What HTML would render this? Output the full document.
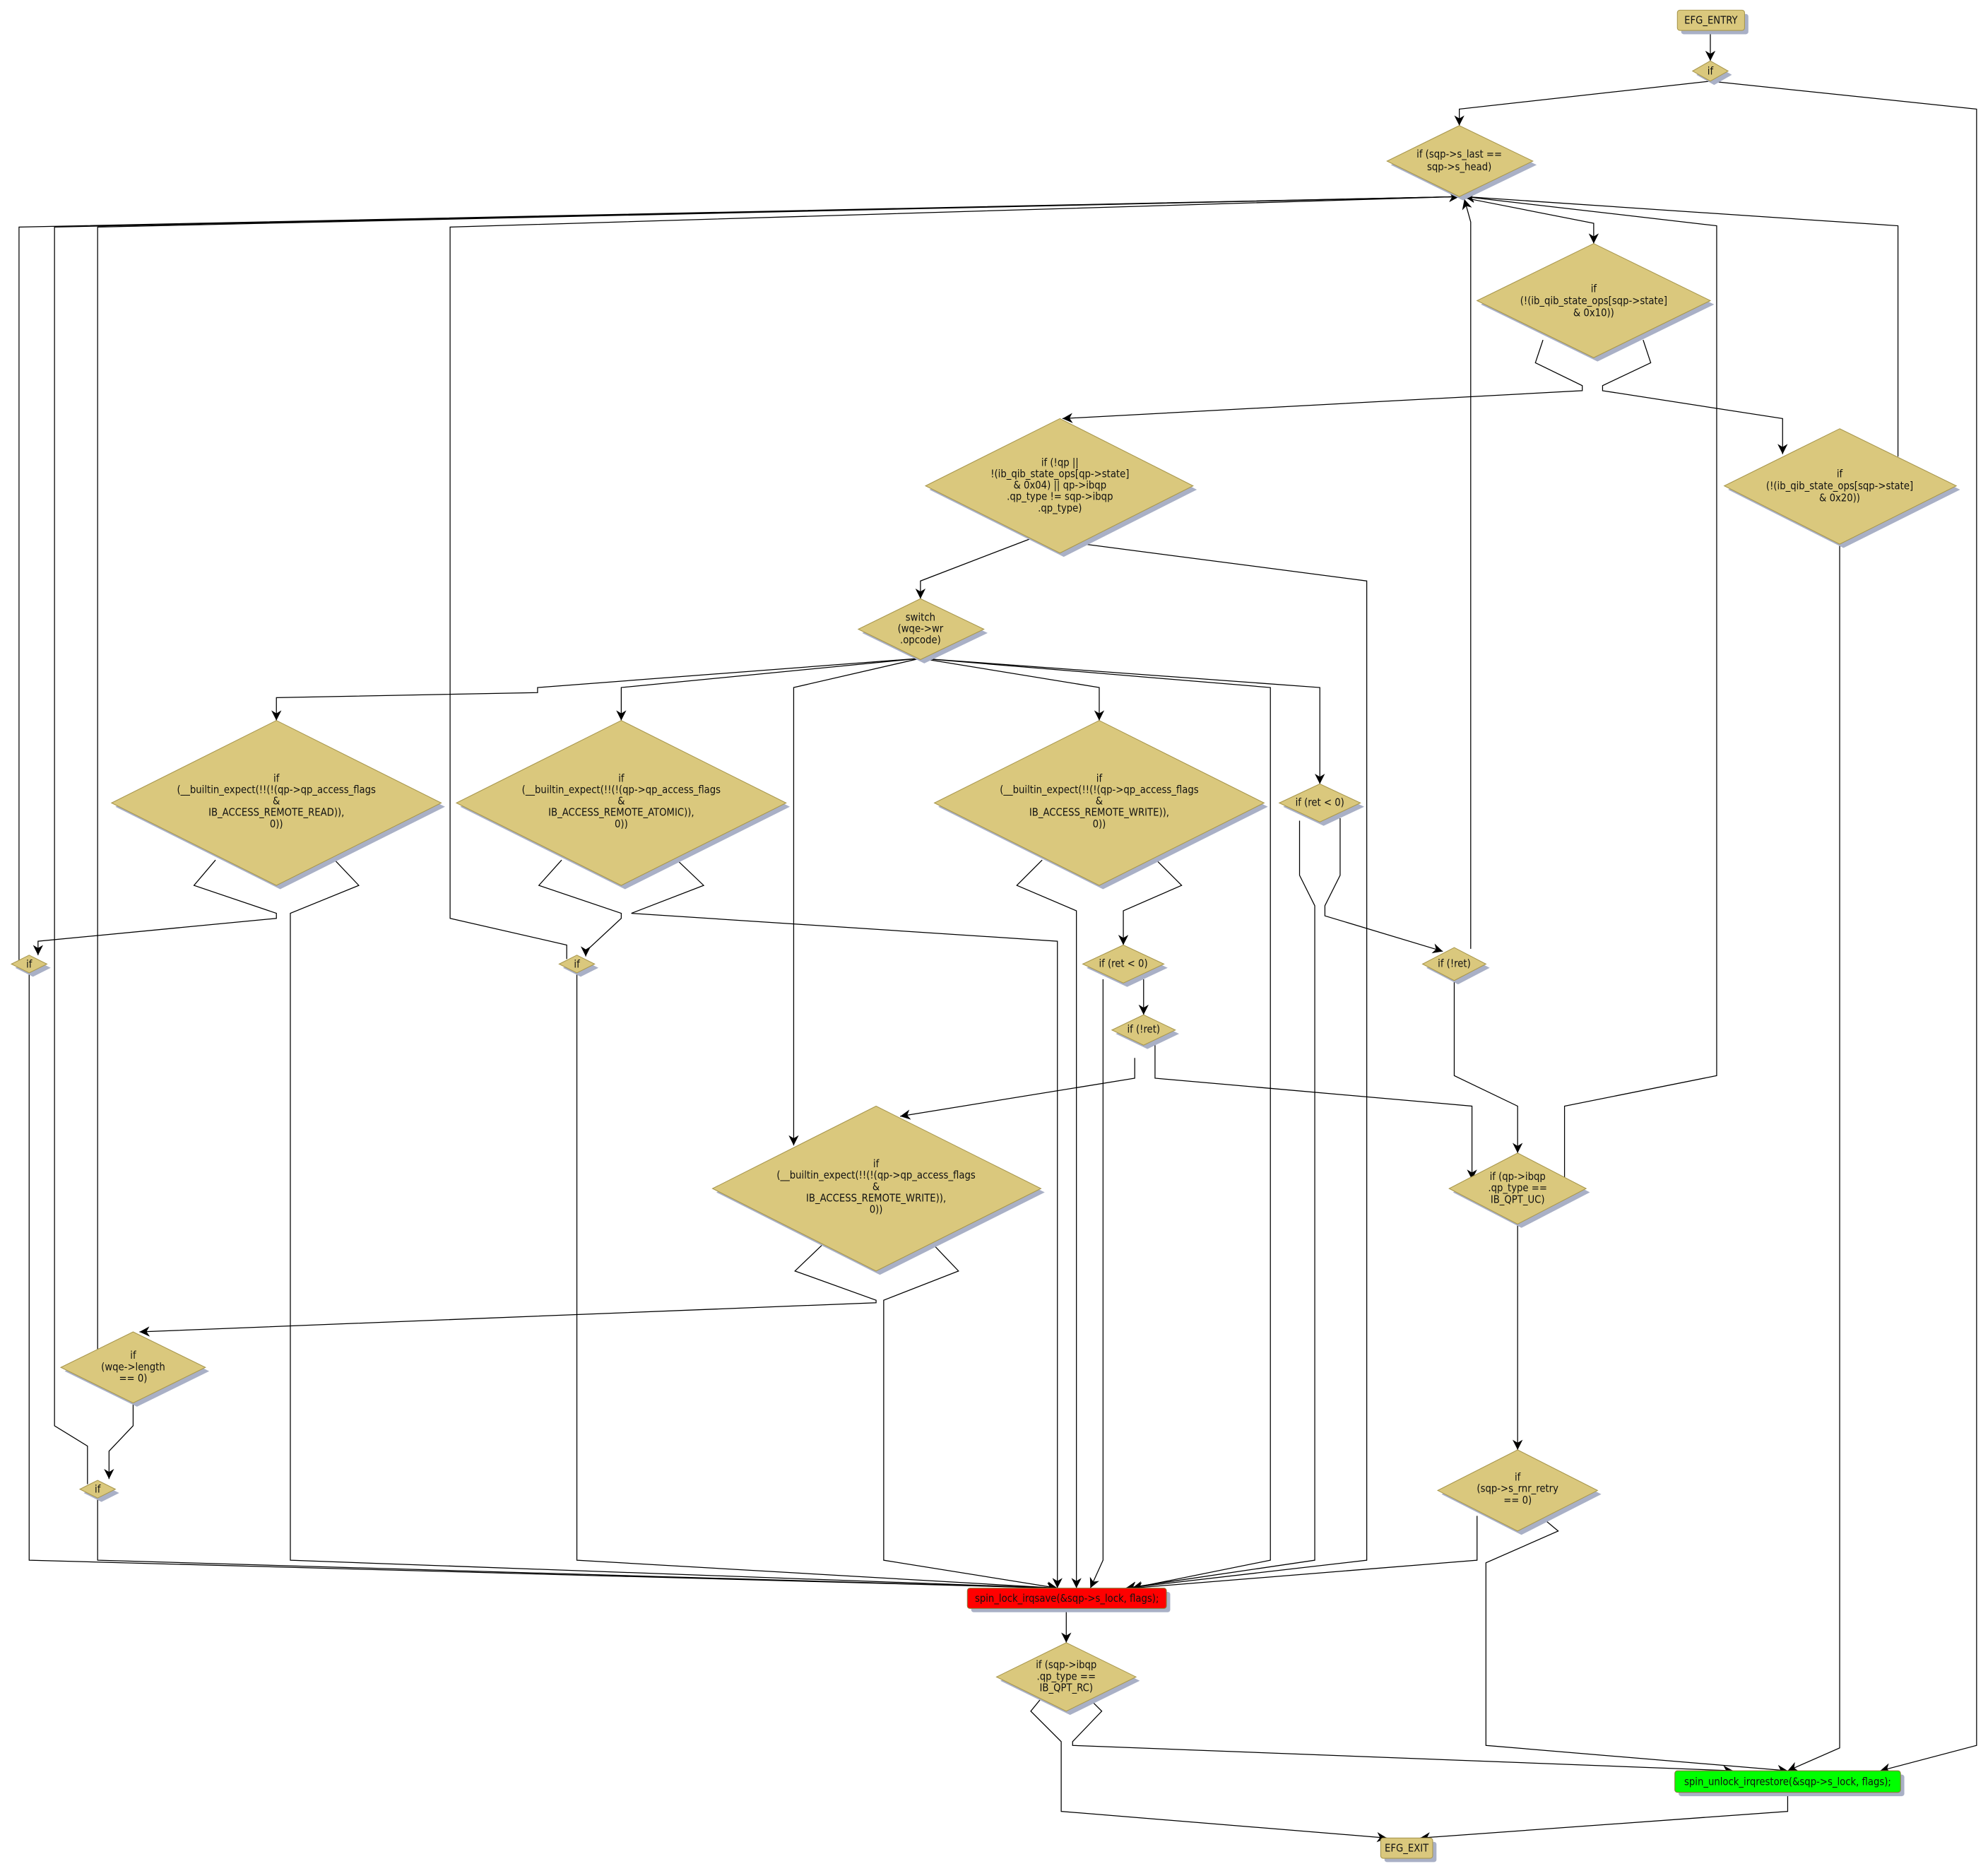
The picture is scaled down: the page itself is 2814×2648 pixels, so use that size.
<!DOCTYPE html>
<html><head><meta charset="utf-8"><style>
html,body{margin:0;padding:0;background:#fff;}
svg{display:block;}
text{font-family:"DejaVu Sans Condensed","Liberation Sans",sans-serif;font-size:8.2px;fill:#111;text-anchor:middle;dominant-baseline:middle;}
.d{fill:#dac87d;stroke:#a8974e;stroke-width:0.6;}
.s{fill:#a9b0c6;}
.e{fill:none;stroke:#000;stroke-width:0.7;}
</style></head><body>
<svg width="2814" height="2648" viewBox="0 0 1568 1475" preserveAspectRatio="none" xmlns="http://www.w3.org/2000/svg">
<defs><marker id="a" viewBox="0 0 10 10" refX="10" refY="5" markerWidth="8" markerHeight="8" markerUnits="userSpaceOnUse" orient="auto"><path d="M0,0 L10,5 L0,10 L3,5 z" fill="#000"/></marker></defs>

<g class="e" marker-end="url(#a)">
<polyline points="1349,24 1349,48"/>
<polyline points="1349,64 1151,86 1151,99"/>
<polyline points="1349,64 1559,86 1559,1376 1483,1396"/>
<polyline points="1155,156 1257,176 1257,192"/>
<polyline points="1217,268 1211,286 1248,304 1248,308 838,330"/>
<polyline points="1296,268 1302,286 1264,304 1264,308 1406,330 1406,358"/>
<polyline points="1497,360 1497,178 1155,155"/>
<polyline points="1451,429 1451,1378 1410,1396"/>
<polyline points="812,425 726,458 726,472"/>
<polyline points="848,428 1078,458 1078,1230 888,1252"/>
<polyline points="726,519 424,542 424,546 218,550 218,568"/>
<polyline points="726,519 490,542 490,568"/>
<polyline points="726,519 626,542 626,903"/>
<polyline points="726,519 867,542 867,568"/>
<polyline points="726,519 1002,542 1002,1230 893,1252"/>
<polyline points="726,519 1041,542 1041,618"/>
<polyline points="170,678 153,698 218,720 218,724 30,742 30,753"/>
<polyline points="264,678 283,698 229,720 229,1230 834,1252"/>
<polyline points="443,678 425,698 490,720 490,724 462,750 462,754"/>
<polyline points="534,678 555,698 498,720 834,742 834,1252"/>
<polyline points="822,678 802,698 849,718 849,1252"/>
<polyline points="912,678 932,698 886,718 886,745"/>
<polyline points="1025,647 1025,690 1037,714 1037,1230 888,1252"/>
<polyline points="1057,645 1057,690 1045,714 1045,722 1138,750"/>
<polyline points="23,767 23,1230 834,1252"/>
<polyline points="15,760 15,179 1151,155"/>
<polyline points="69,1170 69,1140 43,1124 43,179 1151,155"/>
<polyline points="77,1064 77,179 1151,155"/>
<polyline points="447,756 447,745 355,724 355,179 1151,155"/>
<polyline points="455,767 455,1230 834,1252"/>
<polyline points="870,772 870,1230 860,1252"/>
<polyline points="902,772 902,800"/>
<polyline points="1147,772 1147,848 1197,872 1197,909"/>
<polyline points="1160,748 1160,175 1155,157"/>
<polyline points="895,834 895,850 710,880"/>
<polyline points="911,822 911,850 1161,872 1161,930"/>
<polyline points="1234,928 1234,872 1354,848 1354,178 1155,155"/>
<polyline points="1197,965 1197,1143"/>
<polyline points="650,980 627,1002 691,1025 691,1027 110,1050"/>
<polyline points="735,980 756,1002 697,1025 697,1230 834,1252"/>
<polyline points="105,1106 105,1124 86,1144 86,1166"/>
<polyline points="77,1181 77,1230 834,1252"/>
<polyline points="1165,1195 1165,1230 893,1252"/>
<polyline points="1217,1197 1229,1207 1172,1232 1172,1376 1410,1396"/>
<polyline points="841,1268 841,1295"/>
<polyline points="822,1338 813,1349 837,1373 837,1428 1094,1449"/>
<polyline points="858,1338 869,1349 846,1373 846,1376 1367,1396"/>
<polyline points="1410,1413 1410,1428 1120,1449"/>
</g>

<rect x="1326" y="11" width="53" height="16" rx="2" class="s"/>
<rect x="1323" y="8" width="53" height="16" rx="2" class="d"/>
<text x="1349.5" y="16.5">EFG_ENTRY</text>

<rect x="766" y="1255" width="157" height="16" rx="2" class="s"/>
<rect x="763" y="1252" width="157" height="16" rx="2" fill="#ff0000" stroke="#8a7a3a" stroke-width="0.6"/>
<text x="841.5" y="1260.5">spin_lock_irqsave(&amp;sqp-&gt;s_lock, flags);</text>

<rect x="1324" y="1399" width="178" height="17" rx="2" class="s"/>
<rect x="1321" y="1396" width="178" height="17" rx="2" fill="#00ff00" stroke="#8a7a3a" stroke-width="0.6"/>
<text x="1410" y="1405">spin_unlock_irqrestore(&amp;sqp-&gt;s_lock, flags);</text>

<rect x="1092" y="1452" width="41" height="16" rx="2" class="s"/>
<rect x="1089" y="1449" width="41" height="16" rx="2" class="d"/>
<text x="1109.5" y="1457.5">EFG_EXIT</text>

<g>
<polygon class="s" points="1352,51 1366,59 1352,67 1338,59"/>
<polygon class="d" points="1349,48 1363,56 1349,64 1335,56"/>
<text x="1349" y="56.5">if</text>

<polygon class="s" points="1154,102 1212,130 1154,158 1097,130"/>
<polygon class="d" points="1151,99 1209,127 1151,155 1094,127"/>
<text x="1151" y="122">if (sqp-&gt;s_last ==</text><text x="1151" y="132">sqp-&gt;s_head)</text>

<polygon class="s" points="1260,195 1352,240 1260,285 1168,240"/>
<polygon class="d" points="1257,192 1349,237 1257,282 1165,237"/>
<text x="1257" y="228">if</text><text x="1257" y="237.5">(!(ib_qib_state_ops[sqp-&gt;state]</text><text x="1257" y="247">&amp; 0x10))</text>

<polygon class="s" points="839,333 944,386 839,439 733,386"/>
<polygon class="d" points="836,330 941,383 836,436 730,383"/>
<text x="836" y="365">if (!qp ||</text><text x="836" y="374">!(ib_qib_state_ops[qp-&gt;state]</text><text x="836" y="383">&amp; 0x04) || qp-&gt;ibqp</text><text x="836" y="392">.qp_type != sqp-&gt;ibqp</text><text x="836" y="401">.qp_type)</text>

<polygon class="s" points="1454,341 1546,386 1454,432 1363,386"/>
<polygon class="d" points="1451,338 1543,383 1451,429 1360,383"/>
<text x="1451" y="374">if</text><text x="1451" y="383.5">(!(ib_qib_state_ops[sqp-&gt;state]</text><text x="1451" y="393">&amp; 0x20))</text>

<polygon class="s" points="729,475 779,499 729,523 680,499"/>
<polygon class="d" points="726,472 776,496 726,520 677,496"/>
<text x="726" y="487">switch</text><text x="726" y="496">(wqe-&gt;wr</text><text x="726" y="505">.opcode)</text>

<polygon class="s" points="221,571 351,636 221,701 91,636"/>
<polygon class="d" points="218,568 348,633 218,698 88,633"/>
<text x="218" y="614">if</text><text x="218" y="623">(__builtin_expect(!!(!(qp-&gt;qp_access_flags</text><text x="218" y="632">&amp;</text><text x="218" y="641">IB_ACCESS_REMOTE_READ)),</text><text x="218" y="650">0))</text>

<polygon class="s" points="493,571 623,636 493,701 363,636"/>
<polygon class="d" points="490,568 620,633 490,698 360,633"/>
<text x="490" y="614">if</text><text x="490" y="623">(__builtin_expect(!!(!(qp-&gt;qp_access_flags</text><text x="490" y="632">&amp;</text><text x="490" y="641">IB_ACCESS_REMOTE_ATOMIC)),</text><text x="490" y="650">0))</text>

<polygon class="s" points="870,571 1000,636 870,701 740,636"/>
<polygon class="d" points="867,568 997,633 867,698 737,633"/>
<text x="867" y="614">if</text><text x="867" y="623">(__builtin_expect(!!(!(qp-&gt;qp_access_flags</text><text x="867" y="632">&amp;</text><text x="867" y="641">IB_ACCESS_REMOTE_WRITE)),</text><text x="867" y="650">0))</text>

<polygon class="s" points="1044,621 1076,636 1044,651 1012,636"/>
<polygon class="d" points="1041,618 1073,633 1041,648 1009,633"/>
<text x="1041" y="633">if (ret &lt; 0)</text>

<polygon class="s" points="26,756 40,763 26,770 12,763"/>
<polygon class="d" points="23,753 37,760 23,767 9,760"/>
<text x="23" y="760.5">if</text>

<polygon class="s" points="458,756 472,763 458,770 444,763"/>
<polygon class="d" points="455,753 469,760 455,767 441,760"/>
<text x="455" y="760.5">if</text>

<polygon class="s" points="889,748 921,763 889,778 857,763"/>
<polygon class="d" points="886,745 918,760 886,775 854,760"/>
<text x="886" y="760">if (ret &lt; 0)</text>

<polygon class="s" points="1150,750 1175,763 1150,776 1125,763"/>
<polygon class="d" points="1147,747 1172,760 1147,773 1122,760"/>
<text x="1147" y="760">if (!ret)</text>

<polygon class="s" points="905,803 930,815 905,827 880,815"/>
<polygon class="d" points="902,800 927,812 902,824 877,812"/>
<text x="902" y="812">if (!ret)</text>

<polygon class="s" points="694,875 824,940 694,1005 565,940"/>
<polygon class="d" points="691,872 821,937 691,1002 562,937"/>
<text x="691" y="918">if</text><text x="691" y="927">(__builtin_expect(!!(!(qp-&gt;qp_access_flags</text><text x="691" y="936">&amp;</text><text x="691" y="945">IB_ACCESS_REMOTE_WRITE)),</text><text x="691" y="954">0))</text>

<polygon class="s" points="1200,912 1254,940 1200,968 1146,940"/>
<polygon class="d" points="1197,909 1251,937 1197,965 1143,937"/>
<text x="1197" y="928">if (qp-&gt;ibqp</text><text x="1197" y="937">.qp_type ==</text><text x="1197" y="946">IB_QPT_UC)</text>

<polygon class="s" points="108,1053 165,1081 108,1109 51,1081"/>
<polygon class="d" points="105,1050 162,1078 105,1106 48,1078"/>
<text x="105" y="1069">if</text><text x="105" y="1078">(wqe-&gt;length</text><text x="105" y="1087">== 0)</text>

<polygon class="s" points="80,1170 94,1177 80,1184 66,1177"/>
<polygon class="d" points="77,1167 91,1174 77,1181 63,1174"/>
<text x="77" y="1174.5">if</text>

<polygon class="s" points="1200,1146 1263,1178 1200,1210 1137,1178"/>
<polygon class="d" points="1197,1143 1260,1175 1197,1207 1134,1175"/>
<text x="1197" y="1165">if</text><text x="1197" y="1174">(sqp-&gt;s_rnr_retry</text><text x="1197" y="1183">== 0)</text>

<polygon class="s" points="844,1298 899,1325 844,1352 789,1325"/>
<polygon class="d" points="841,1295 896,1322 841,1349 786,1322"/>
<text x="841" y="1313">if (sqp-&gt;ibqp</text><text x="841" y="1322">.qp_type ==</text><text x="841" y="1331">IB_QPT_RC)</text>
</g>
</svg>
</body></html>
